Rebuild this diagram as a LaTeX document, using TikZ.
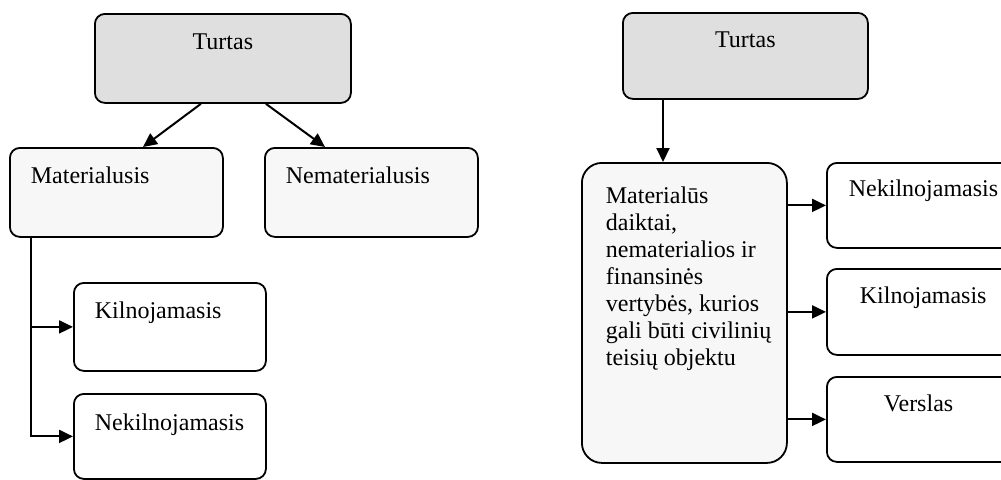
\documentclass[tikz,border=0pt]{standalone}
\usepackage{fontspec}
\setmainfont{Liberation Serif}
\usetikzlibrary{arrows.meta,calc}

% text set at a fixed indent inside a box of given width
\newcommand{\inbox}[3]{\makebox[#1][l]{\hspace*{#2}#3}}

\tikzset{
  box/.style={draw, line width=0.9pt, rounded corners=5pt, anchor=north west,
    inner sep=0pt, font=\fontsize{12}{13.5}\selectfont},
  arr/.style={-{Triangle[length=7pt,width=6.5pt]}, line width=1pt},
}

\begin{document}
\begin{tikzpicture}[x=0.5pt, y=-0.5pt]
\useasboundingbox (0,0) rectangle (1001,479);
% left tree
\node[box, fill=gray!25, text height=18pt, text depth=26.5pt] (turL) at (94,13) {\makebox[128pt]{Turtas}};
\node[box, fill=gray!6, text height=18pt, text depth=26.5pt] (matL) at (9,147) {\inbox{106.5pt}{10.5pt}{Materialusis}};
\node[box, fill=gray!6, text height=18pt, text depth=26.5pt] (nemL) at (264,147) {\inbox{106.5pt}{10.5pt}{Nematerialusis}};
\node[box, fill=white, text height=18pt, text depth=26pt] (kilL) at (73,282) {\inbox{96pt}{10.5pt}{Kilnojamasis}};
\node[box, fill=white, text height=18.5pt, text depth=24pt] (nekL) at (73,393) {\inbox{96pt}{10.5pt}{Nekilnojamasis}};
\draw[arr] ($(turL.south)+(-22,0)$) -- ($(matL.north west)+(134,0)$);
\draw[arr] ($(turL.south)+(43,0)$) -- ($(nemL.north west)+(61,0)$);
\coordinate (trunk) at ($(matL.south west)+(22,0)$);
\draw[arr] (trunk) |- (kilL.west);
\draw[arr] (trunk) |- (nekL.west);
% right tree
\node[box, fill=gray!25, text height=17.5pt, text depth=25.5pt] (turR) at (622,12) {\makebox[122.5pt]{Turtas}};
\node[box, fill=gray!6, rounded corners=10pt, text height=20.5pt, text depth=129.5pt] (matR) at (581,162)
  {\inbox{102.5pt}{12pt}{\parbox[t]{90pt}{Materialūs\\daiktai,\\nematerialios ir\\finansinės\\vertybės, kurios\\gali būti civilinių\\teisių objektu}}};
\node[box, fill=white, text height=17pt, text depth=25.5pt] (nekR) at (826,162) {\inbox{106.5pt}{11pt}{Nekilnojamasis}};
\node[box, fill=white, text height=17.5pt, text depth=25.5pt] (kilR) at (826,268) {\inbox{106.5pt}{16.5pt}{Kilnojamasis}};
\node[box, fill=white, text height=17.5pt, text depth=25pt] (verR) at (826,376) {\inbox{106.5pt}{28.5pt}{Verslas}};
\coordinate (drop) at ($(turR.south west)+(41,0)$);
\draw[arr] (drop) -- (drop |- matR.north);
\draw[arr] (matR.east |- nekR.west) -- (nekR.west);
\draw[arr] (matR.east |- kilR.west) -- (kilR.west);
\draw[arr] (matR.east |- verR.west) -- (verR.west);
\end{tikzpicture}
\end{document}
